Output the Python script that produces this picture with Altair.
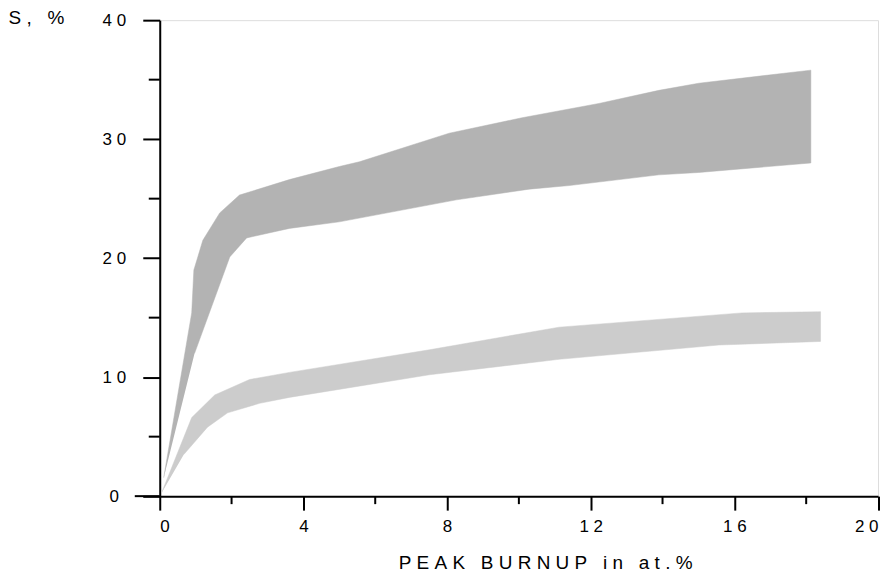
import altair as alt
import pandas as pd

# ---- data ----
dark_upper_x = [0.11, 0.89, 0.95, 1.20, 1.67, 2.22, 3.61, 5.0, 5.56, 8.06, 10.09, 12.23, 13.9, 15.01, 18.13]
dark_upper_y = [1.55, 15.4, 19.0, 21.5, 23.8, 25.3, 26.6, 27.7, 28.1, 30.5, 31.8, 33.0, 34.1, 34.7, 35.8]
dark_lower_x = [0.97, 1.95, 2.42, 3.61, 5.0, 8.26, 10.29, 11.4, 13.9, 15.01, 18.13]
dark_lower_y = [12.0, 20.1, 21.7, 22.5, 23.05, 24.9, 25.8, 26.1, 27.0, 27.2, 28.0]

light_upper_x = [0.05, 0.89, 1.53, 2.5, 3.61, 7.51, 11.12, 16.21, 18.4]
light_upper_y = [0.27, 6.6, 8.5, 9.8, 10.4, 12.3, 14.2, 15.4, 15.5]
light_lower_x = [0.67, 1.33, 1.89, 2.78, 3.61, 7.51, 11.12, 15.57, 18.4]
light_lower_y = [3.5, 5.8, 7.0, 7.8, 8.3, 10.2, 11.5, 12.7, 13.0]

x_ticks = [0, 4, 8, 12, 16, 20]
x_minor = [2, 6, 10, 14, 18]
y_ticks = [0, 10, 20, 30, 40]
y_minor = [5, 15, 25, 35]

NB = "\u00a0"
x_title = NB.join(list("PEAK BURNUP in at.%"))
y_title = NB.join(list("S, %"))

W = 719.5
H = 476.8
FONT = "Liberation Sans"


def polygon(ux, uy, lx, ly):
    xs = list(ux) + list(reversed(lx))
    ys = list(uy) + list(reversed(ly))
    return pd.DataFrame({"x": xs, "y": ys, "o": list(range(len(xs)))})


dark_df = polygon(dark_upper_x, dark_upper_y, dark_lower_x, dark_lower_y)
light_df = polygon(light_upper_x, light_upper_y, light_lower_x, light_lower_y)

xscale = alt.Scale(domain=[0, 20], nice=False, zero=False)
yscale = alt.Scale(domain=[0, 40], nice=False, zero=False)

label_expr = "join(split(datum.label, ''), '" + NB + "')"

xaxis = alt.Axis(
    values=x_ticks, tickSize=14, tickWidth=2, tickColor="black",
    domainColor="black", domainWidth=2, grid=False,
    labelFont=FONT, labelFontSize=17, labelColor="black", labelPadding=8,
    labelExpr=label_expr,
    title=x_title, titleFont=FONT, titleFontSize=19, titleFontWeight="normal",
    titleColor="black", titleBaseline="alphabetic", titleAlign="center",
    titleX=386, titleY=72.5,
)
yaxis = alt.Axis(
    values=y_ticks, tickSize=17, tickWidth=2, tickColor="black",
    domainColor="black", domainWidth=2, grid=False,
    labelFont=FONT, labelFontSize=17, labelColor="black", labelPadding=29,
    labelAlign="center", labelBaseline="middle", labelExpr=label_expr,
    title=y_title, titleFont=FONT, titleFontSize=19, titleFontWeight="normal",
    titleColor="black", titleAngle=0, titleAlign="left",
    titleBaseline="alphabetic", titleX=-152, titleY=3.5,
)

dark = alt.Chart(dark_df).mark_line(
    fill="#b3b3b3", stroke="#b3b3b3", strokeWidth=0.5
).encode(
    x=alt.X("x:Q", scale=xscale, axis=xaxis),
    y=alt.Y("y:Q", scale=yscale, axis=yaxis),
    order="o:Q",
)

light = alt.Chart(light_df).mark_line(
    fill="#cccccc", stroke="#cccccc", strokeWidth=0.5
).encode(
    x=alt.X("x:Q", scale=xscale),
    y=alt.Y("y:Q", scale=yscale),
    order="o:Q",
)

ymin_df = pd.DataFrame({"v": y_minor})
xmin_df = pd.DataFrame({"v": x_minor})

y_minor_ticks = alt.Chart(ymin_df).mark_rule(color="black", strokeWidth=2).encode(
    y=alt.Y("v:Q", scale=yscale),
    x=alt.value(-11),
    x2=alt.value(0),
)
x_minor_ticks = alt.Chart(xmin_df).mark_rule(color="black", strokeWidth=2).encode(
    x=alt.X("v:Q", scale=xscale),
    y=alt.value(H),
    y2=alt.value(H + 8),
)
x_ext = alt.Chart(pd.DataFrame({"v": [0]})).mark_rule(color="black", strokeWidth=2).encode(
    y=alt.Y("v:Q", scale=yscale),
    x=alt.value(-25),
    x2=alt.value(0),
)

chart = alt.layer(light, dark, y_minor_ticks, x_minor_ticks, x_ext).properties(
    width=W, height=H,
    autosize=alt.AutoSizeParams(type="none"),
    padding={"left": 152, "top": 11.7, "right": 6, "bottom": 76},
).configure_view(stroke=None).configure(background="white")

chart.save("out.html", embed_options={"renderer": "svg", "actions": False})
